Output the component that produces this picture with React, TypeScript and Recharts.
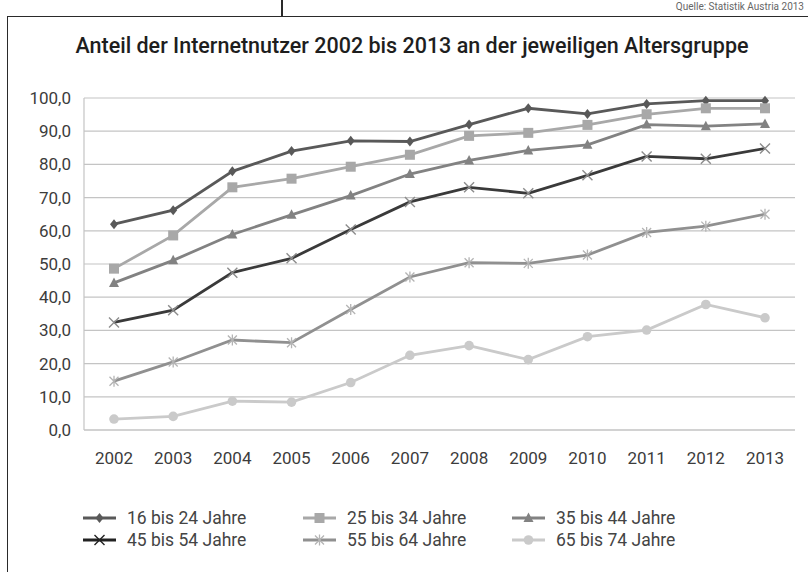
import React from "react";
import { CartesianGrid, Legend, Line, LineChart, XAxis, YAxis } from "recharts";

const years = ["2002", "2003", "2004", "2005", "2006", "2007", "2008", "2009", "2010", "2011", "2012", "2013"];
const age16to24 = [62.0, 66.2, 77.9, 84.0, 87.1, 86.9, 92.0, 96.9, 95.2, 98.2, 99.2, 99.2];
const age25to34 = [48.6, 58.6, 73.1, 75.7, 79.3, 82.9, 88.6, 89.5, 91.9, 95.1, 96.9, 96.9];
const age35to44 = [44.3, 51.1, 58.9, 64.8, 70.6, 77.1, 81.2, 84.2, 85.9, 92.0, 91.5, 92.2];
const age45to54 = [32.4, 36.1, 47.4, 51.7, 60.4, 68.7, 73.1, 71.3, 76.7, 82.4, 81.7, 84.8];
const age55to64 = [14.7, 20.5, 27.1, 26.3, 36.3, 46.1, 50.4, 50.2, 52.7, 59.5, 61.4, 65.0];
const age65to74 = [3.3, 4.1, 8.7, 8.4, 14.3, 22.5, 25.4, 21.2, 28.1, 30.1, 37.8, 33.8];
const yTicks = [0, 10, 20, 30, 40, 50, 60, 70, 80, 90, 100];

type Shape = "diamond" | "square" | "triangle" | "cross" | "star" | "circle";

const seriesList: { key: string; label: string; values: number[]; color: string; markColor: string; shape: Shape }[] = [
  { key: "a", label: "16 bis 24 Jahre", values: age16to24, color: "#595959", markColor: "#595959", shape: "diamond" },
  { key: "b", label: "25 bis 34 Jahre", values: age25to34, color: "#a8a8a8", markColor: "#a8a8a8", shape: "square" },
  { key: "c", label: "35 bis 44 Jahre", values: age35to44, color: "#828282", markColor: "#828282", shape: "triangle" },
  { key: "d", label: "45 bis 54 Jahre", values: age45to54, color: "#3a3a3a", markColor: "#8c8c8c", shape: "cross" },
  { key: "e", label: "55 bis 64 Jahre", values: age55to64, color: "#909090", markColor: "#b4b4b4", shape: "star" },
  { key: "f", label: "65 bis 74 Jahre", values: age65to74, color: "#cacaca", markColor: "#cacaca", shape: "circle" },
];

const data = years.map((year, i) => {
  const row: Record<string, string | number> = { year };
  seriesList.forEach((s) => (row[s.key] = s.values[i]));
  return row;
});

const FONT = "Roboto, 'Noto Sans', sans-serif";

function Marker({ cx, cy, shape, color }: { cx: number; cy: number; shape: Shape; color: string }) {
  switch (shape) {
    case "diamond":
      return <polygon points={`${cx},${cy - 5} ${cx + 4},${cy} ${cx},${cy + 5} ${cx - 4},${cy}`} fill={color} />;
    case "square":
      return <rect x={cx - 5} y={cy - 5} width={10} height={10} fill={color} />;
    case "triangle":
      return <polygon points={`${cx},${cy - 5.5} ${cx + 5},${cy + 4} ${cx - 5},${cy + 4}`} fill={color} />;
    case "cross":
      return (
        <path
          d={`M${cx - 5},${cy - 5}L${cx + 5},${cy + 5}M${cx + 5},${cy - 5}L${cx - 5},${cy + 5}`}
          stroke={color}
          strokeWidth={1.4}
        />
      );
    case "star":
      return (
        <path
          d={`M${cx},${cy - 5.5}L${cx},${cy + 5.5}M${cx - 4.5},${cy - 4.5}L${cx + 4.5},${cy + 4.5}M${cx + 4.5},${cy - 4.5}L${cx - 4.5},${cy + 4.5}`}
          stroke={color}
          strokeWidth={1.3}
        />
      );
    default:
      return <circle cx={cx} cy={cy} r={4.8} fill={color} />;
  }
}

const legendCols = [83, 303, 512];
const legendRows = [518, 540];
const legendTop = 500;

function renderLegend() {
  return (
    <div style={{ position: "relative", width: 808, height: 60, fontFamily: FONT }}>
      {seriesList.map((s, i) => {
        const left = legendCols[i % 3];
        const top = legendRows[Math.floor(i / 3)] - legendTop - 11;
        return (
          <div key={s.key} style={{ position: "absolute", left, top, height: 22, display: "flex", alignItems: "center" }}>
            <svg width={34} height={22}>
              <line x1={0} y1={11} x2={33} y2={11} stroke={s.shape === "cross" ? "#222" : s.color} strokeWidth={3} />
              <Marker cx={16.5} cy={11} shape={s.shape} color={s.shape === "cross" ? "#222" : s.markColor} />
            </svg>
            <span style={{ marginLeft: 10, fontSize: 17.5, color: "#444", whiteSpace: "nowrap" }}>{s.label}</span>
          </div>
        );
      })}
    </div>
  );
}

export default function App() {
  return (
    <div style={{ position: "absolute", left: 0, top: 0, width: 808, height: 572, overflow: "hidden", background: "#fff" }}>
      <div style={{ position: "absolute", left: 281, top: 0, width: 1.5, height: 16, background: "#2a2a2a" }} />
      <div
        style={{
          position: "absolute",
          right: 4,
          top: 1,
          fontFamily: FONT,
          fontSize: 10,
          lineHeight: "12px",
          color: "#666",
          whiteSpace: "nowrap",
        }}
      >
        Quelle: Statistik Austria 2013
      </div>
      <div
        style={{
          position: "absolute",
          left: 7,
          top: 16,
          width: 820,
          height: 600,
          borderLeft: "1.5px solid #2a2a2a",
          borderTop: "1.5px solid #2a2a2a",
        }}
      />
      <div
        style={{
          position: "absolute",
          left: 0,
          top: 33,
          width: 824,
          textAlign: "center",
          fontFamily: FONT,
          fontSize: 21.5,
          fontWeight: 500,
          color: "#1e1e1e",
          whiteSpace: "nowrap",
        }}
      >
        Anteil der Internetnutzer 2002 bis 2013 an der jeweiligen Altersgruppe
      </div>
      <div style={{ position: "absolute", left: 0, top: 0 }}>
        <LineChart width={808} height={572} data={data} margin={{ top: 98, right: 13, bottom: 112, left: 0 }}>
          <CartesianGrid vertical={false} stroke="#c4c4c4" strokeWidth={1.2} />
          <XAxis
            dataKey="year"
            padding={{ left: 30, right: 30 }}
            axisLine={{ stroke: "#c4c4c4", strokeWidth: 1.2 }}
            tickLine={false}
            tickMargin={16}
            height={30}
            interval={0}
            tick={{ fontFamily: FONT, fontSize: 17, fill: "#3c3c3c" }}
          />
          <YAxis
            domain={[0, 100]}
            ticks={yTicks}
            interval={0}
            width={84}
            axisLine={{ stroke: "#c4c4c4", strokeWidth: 1.2 }}
            tickLine={false}
            tickMargin={7}
            tickFormatter={(v: number) => v.toFixed(1).replace(".", ",")}
            tick={{ fontFamily: FONT, fontSize: 17, fill: "#3c3c3c" }}
          />
          <Legend
            layout="horizontal"
            verticalAlign="middle"
            align="center"
            content={renderLegend}
            wrapperStyle={{ left: 0, top: legendTop, width: 808, height: 60 }}
          />
          {seriesList.map((s) => (
            <Line
              key={s.key}
              dataKey={s.key}
              name={s.label}
              stroke={s.color}
              strokeWidth={2.8}
              isAnimationActive={false}
              dot={(p: any) => (
                <Marker key={`${s.key}-${p.index}`} cx={p.cx} cy={p.cy} shape={s.shape} color={s.markColor} />
              )}
              activeDot={false}
            />
          ))}
        </LineChart>
      </div>
    </div>
  );
}
